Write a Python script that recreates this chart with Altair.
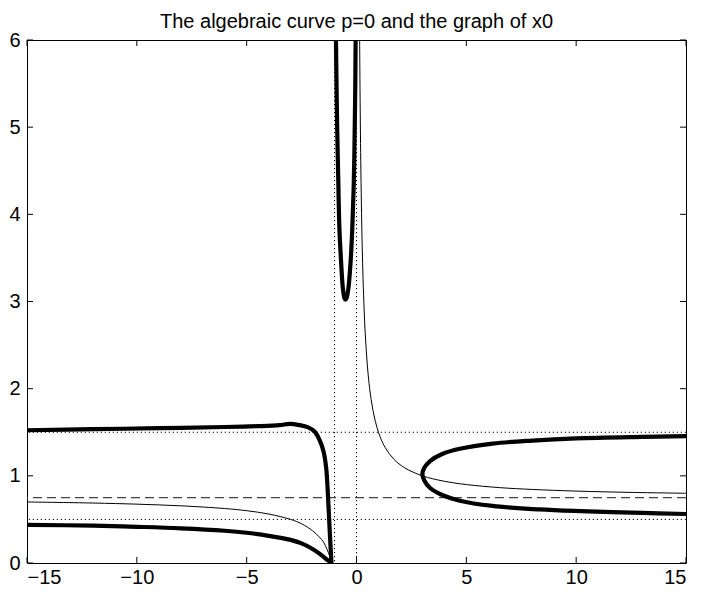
import altair as alt
import pandas as pd

TITLE = "The algebraic curve p=0 and the graph of x0"
x_ticks = [-15, -10, -5, 0, 5, 10, 15]
y_ticks = [0, 1, 2, 3, 4, 5, 6]

# thin curve: graph of x0
thin_left_x = [-15, -12, -10, -8, -6, -5, -4, -3, -2.5, -2, -1.7, -1.5, -1.35, -1.22, -1.13]
thin_left_y = [0.70, 0.688, 0.675, 0.656, 0.625, 0.60, 0.562, 0.50, 0.45, 0.37, 0.30, 0.24, 0.16, 0.08, 0.0]
thin_right_x = [0.143, 0.16, 0.18, 0.2, 0.23, 0.26, 0.3, 0.35, 0.4, 0.5, 0.6, 0.75, 1.0, 1.3, 1.7, 2.2, 3.0, 4.0, 5.0, 6.5, 8.0, 10.0, 12.5, 15.0]
thin_right_y = [6.0, 5.44, 4.92, 4.5, 4.01, 3.63, 3.25, 2.89, 2.625, 2.25, 2.0, 1.75, 1.5, 1.327, 1.191, 1.091, 1.0, 0.9375, 0.9, 0.865, 0.844, 0.825, 0.81, 0.8]

# thick curve: algebraic curve p=0
upper_left_x = [-15, -12, -9, -6, -4.5, -3.5, -3.05, -2.6, -2.2, -1.9, -1.68, -1.5, -1.38, -1.3, -1.22, -1.14]
upper_left_y = [1.523, 1.535, 1.547, 1.560, 1.570, 1.582, 1.596, 1.582, 1.555, 1.505, 1.41, 1.28, 1.09, 0.78, 0.37, 0.0]
lower_left_x = [-15, -12, -10, -8, -6, -5, -4, -3, -2.5, -2, -1.7, -1.5, -1.3, -1.13]
lower_left_y = [0.438, 0.428, 0.415, 0.398, 0.37, 0.347, 0.312, 0.265, 0.225, 0.16, 0.11, 0.07, 0.03, 0.0]
u_x = [-0.935, -0.91, -0.88, -0.83, -0.78, -0.70, -0.62, -0.55, -0.5, -0.45, -0.37, -0.27, -0.19, -0.12, -0.08, -0.055, -0.04]
u_y = [6, 5.5, 5.0, 4.4, 3.85, 3.45, 3.15, 3.04, 3.02, 3.04, 3.15, 3.45, 3.85, 4.4, 5.0, 5.5, 6]
right_x = [15, 13, 10, 8, 6.2, 4.7, 3.9, 3.35, 3.08, 3.0, 3.08, 3.35, 3.9, 4.7, 6.2, 8.3, 10.2, 13, 15]
right_y = [1.455, 1.447, 1.43, 1.405, 1.37, 1.31, 1.25, 1.17, 1.09, 1.02, 0.95, 0.86, 0.78, 0.715, 0.655, 0.615, 0.595, 0.575, 0.562]

dotted_h = [0.5, 1.5]
dotted_v = [-1, 0]
dashed_h = [0.75]


def frame(xs, ys, name):
    return pd.DataFrame({"x": xs, "y": ys, "branch": name, "i": list(range(len(xs)))})


thick = pd.concat([
    frame(upper_left_x, upper_left_y, "ul"),
    frame(lower_left_x, lower_left_y, "ll"),
    frame(u_x, u_y, "u"),
    frame(right_x, right_y, "r"),
])
thin = pd.concat([
    frame(thin_left_x, thin_left_y, "tl"),
    frame(thin_right_x, thin_right_y, "tr"),
])

PAD_L, PAD_T = 19, 32
W, H = 659, 523
SVG_W, SVG_H = 690, 581
FONT = "Liberation Sans"
FS = 20
xs = alt.Scale(domain=[-15, 15], nice=False, zero=False)
ys = alt.Scale(domain=[0, 6], nice=False, zero=False)

xaxis = alt.Axis(values=x_ticks, title=None, format="d", labelPadding=4)
yaxis = alt.Axis(values=y_ticks, title=None, format="d", labelPadding=7)

thick_layer = alt.Chart(thick).mark_line(
    color="black", strokeWidth=4.2, interpolate="catmull-rom", clip=True
).encode(
    x=alt.X("x:Q", scale=xs, axis=xaxis),
    y=alt.Y("y:Q", scale=ys, axis=yaxis),
    detail="branch:N",
    order="i:Q",
)

thin_layer = alt.Chart(thin).mark_line(
    color="black", strokeWidth=1, interpolate="catmull-rom", clip=True
).encode(
    x=alt.X("x:Q", scale=xs),
    y=alt.Y("y:Q", scale=ys),
    detail="branch:N",
    order="i:Q",
)

hdot = alt.Chart(pd.DataFrame({"y": dotted_h})).mark_rule(
    color="black", strokeWidth=1, strokeDash=[1.2, 2.8]
).encode(y=alt.Y("y:Q", scale=ys))

vdot = alt.Chart(pd.DataFrame({"x": dotted_v})).mark_rule(
    color="black", strokeWidth=1, strokeDash=[1.2, 2.8]
).encode(x=alt.X("x:Q", scale=xs))

hdash = alt.Chart(pd.DataFrame({"y": dashed_h})).mark_rule(
    color="#444444", strokeWidth=1.3, strokeDash=[9, 5]
).encode(y=alt.Y("y:Q", scale=ys))

xt = pd.DataFrame({"x": x_ticks})
yt = pd.DataFrame({"y": y_ticks})
TL = 6
xtick_bottom = alt.Chart(xt).mark_rule(color="black", strokeWidth=1).encode(
    x=alt.X("x:Q", scale=xs), y=alt.value(H), y2=alt.value(H - TL))
xtick_top = alt.Chart(xt).mark_rule(color="black", strokeWidth=1).encode(
    x=alt.X("x:Q", scale=xs), y=alt.value(0), y2=alt.value(TL))
ytick_left = alt.Chart(yt).mark_rule(color="black", strokeWidth=1).encode(
    y=alt.Y("y:Q", scale=ys), x=alt.value(0), x2=alt.value(TL))
ytick_right = alt.Chart(yt).mark_rule(color="black", strokeWidth=1).encode(
    y=alt.Y("y:Q", scale=ys), x=alt.value(W), x2=alt.value(W - TL))

chart = alt.layer(
    hdot, vdot, hdash, thin_layer, thick_layer,
    xtick_bottom, xtick_top, ytick_left, ytick_right,
).properties(
    width=W,
    height=H,
    title=alt.TitleParams(TITLE, font=FONT, fontSize=FS, fontWeight="normal",
                          color="black", anchor="middle", frame="group",
                          offset=-2),
    autosize=alt.AutoSizeParams(type="none"),
    padding={"left": PAD_L, "top": PAD_T, "right": SVG_W - PAD_L - W,
             "bottom": SVG_H - PAD_T - H},
).configure_view(
    stroke="black", strokeWidth=1
).configure_axis(
    domain=False, ticks=False, grid=False,
    labelFont=FONT, labelFontSize=FS, labelColor="black",
)

chart.save("out.html", embed_options={"renderer": "svg", "actions": False})
